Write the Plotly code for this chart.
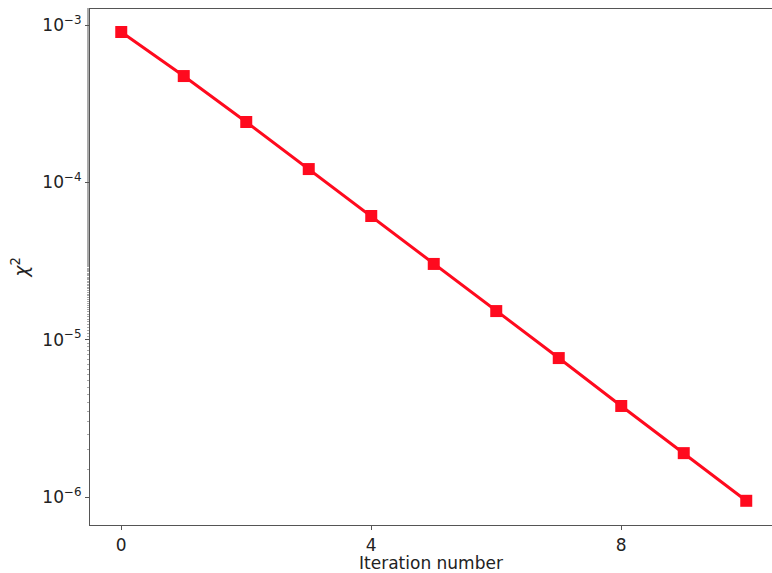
import plotly.graph_objects as go

# Convergence history: chi-squared per iteration
iterations = [0, 1, 2, 3, 4, 5, 6, 7, 8, 9, 10]
chi2 = [9.03e-4, 4.74e-4, 2.42e-4, 1.215e-4, 6.11e-5, 3.03e-5,
        1.52e-5, 7.64e-6, 3.79e-6, 1.90e-6, 9.46e-7]

y_tick_vals = [1e-3, 1e-4, 1e-5, 1e-6]
y_tick_text = ["10<sup>\u22123</sup>", "10<sup>\u22124</sup>",
               "10<sup>\u22125</sup>", "10<sup>\u22126</sup>"]
x_tick_vals = [0, 4, 8]

font_family = "DejaVu Sans"
axis_color = "#555555"

fig = go.Figure()
fig.add_trace(go.Scatter(
    x=iterations, y=chi2,
    mode="lines+markers",
    line=dict(color="#ff0a1e", width=3),
    marker=dict(symbol="square", size=12, color="#ff0a1e"),
    showlegend=False,
))

fig.update_layout(
    width=772, height=573,
    margin=dict(l=90, r=0, t=9, b=48),
    paper_bgcolor="white",
    plot_bgcolor="white",
    font=dict(family=font_family, size=17, color="#222222"),
    xaxis=dict(
        range=[-0.5, 10.412],
        tickvals=x_tick_vals,
        showgrid=False, zeroline=False,
        showline=True, linecolor=axis_color, linewidth=1.2,
        mirror=True,
        ticks="outside", ticklen=4, tickcolor=axis_color,
        tickfont=dict(size=17),
        title=dict(text="Iteration number", font=dict(size=17), standoff=2),
    ),
    yaxis=dict(
        type="log",
        range=[-6.178, -2.898],
        tickvals=y_tick_vals,
        ticktext=y_tick_text,
        showgrid=False, zeroline=False,
        showline=True, linecolor=axis_color, linewidth=1.2,
        ticks="outside", ticklen=4, tickcolor=axis_color,
        tickfont=dict(size=17),
        minor=dict(ticks="outside", ticklen=2, tickcolor="#aaaaaa", showgrid=False),
        title=dict(text="<i>\u03c7</i><sup>2</sup>", font=dict(size=19), standoff=8),
    ),
)

fig.write_html("out.html")
